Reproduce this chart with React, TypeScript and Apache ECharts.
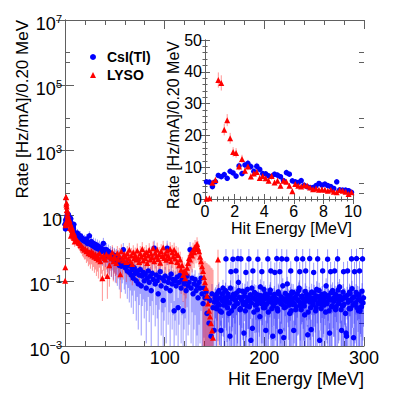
import React, { useEffect, useRef } from "react";
import * as echarts from "echarts";

const FONT = "'Liberation Sans', Arial, Helvetica, sans-serif";

// ---------- inset binning: 0.2 MeV bins from 0 to 10 MeV ----------
const lowBinStart = 0.1;
const lowBinWidth = 0.2;

const csiLow = [
  5.4, 5.3, 3.9, 5.5, 7.4, 7.0, 7.7, 6.5, 8.7, 8.2,
  7.2, 10.4, 8.0, 10.7, 11.2, 10.2, 8.7, 10.3, 9.3, 8.0,
  7.9, 7.3, 7.1, 7.8, 7.5, 7.0, 5.8, 8.3, 7.8, 5.7,
  5.4, 5.2, 5.8, 4.3, 3.9, 3.6, 3.6, 4.2, 4.9, 4.4,
  4.7, 4.2, 3.9, 3.3, 5.4, 2.9, 2.8, 2.8, 2.6, 2.1,
];
const csiLowErr = [
  0.8, 0.8, 0.7, 0.8, 0.9, 0.9, 0.9, 0.9, 1.0, 1.0,
  0.9, 1.1, 1.0, 1.1, 1.1, 1.1, 1.0, 1.1, 1.0, 0.9,
  0.9, 0.9, 0.9, 0.9, 0.9, 0.9, 0.8, 0.9, 0.9, 0.8,
  0.8, 0.8, 0.8, 0.7, 0.7, 0.7, 0.7, 0.7, 0.7, 0.7,
  0.7, 0.7, 0.7, 0.6, 0.8, 0.6, 0.6, 0.6, 0.6, 0.5,
];
const lysoLow = [
  0.1, 0.26, 5.1, 6.0, 37.4, 36.5, 21.8, 24.8, 19.1, 14.8,
  14.5, 10.2, 12.6, 8.9, 10.2, 7.1, 8.0, 8.5, 6.6, 7.2,
  6.5, 5.7, 7.2, 5.2, 5.7, 4.2, 5.7, 5.4, 4.2, 2.4,
  4.7, 4.2, 3.9, 4.4, 4.2, 3.6, 3.1, 3.3, 2.9, 3.1,
  2.9, 2.6, 2.9, 2.3, 2.1, 2.8, 2.6, 2.3, 1.6, 2.1,
];
const lysoLowErr = [
  0.02, 0.05, 0.9, 1.0, 2.4, 2.4, 1.8, 1.9, 1.7, 1.5,
  1.5, 1.2, 1.3, 1.1, 1.2, 1.0, 1.0, 1.1, 0.9, 1.0,
  0.9, 0.9, 0.9, 0.8, 0.9, 0.8, 0.8, 0.8, 0.8, 0.6,
  0.8, 0.7, 0.7, 0.7, 0.7, 0.7, 0.6, 0.6, 0.6, 0.6,
  0.6, 0.6, 0.6, 0.5, 0.5, 0.6, 0.6, 0.5, 0.5, 0.5,
];

// ---------- main plot beyond 10 MeV: points every 1 MeV ----------
const mainBinStart = 10.5;
const mainBinWidth = 1;

const csiMain = [
  2.8, 2.6, 2.9, 2.3, 2.1, 2.4, 1.9, 2.0, 1.7, 1.8,
  1.6, 1.9, 1.4, 1.5, 2.4, 1.3, 1.6, 1.2, 1.4, 1.1,
  1.3, 1.0, 1.2, 0.95, 1.1, 0.85, 1.0, 0.8, 1.4, 0.9,
  0.75, 0.9, 0.6, 0.8, 0.55, 0.7, 0.5, 0.65, 0.45, 0.6,
  0.4, 0.55, 0.35, 0.5, 0.3, 0.45, 0.28, 0.38, 0.9, 0.3,
  0.25, 0.35, 0.2, 0.3, 0.18, 0.28, 0.15, 0.22, 0.12, 0.25,
  0.17, 0.1, 0.2, 0.08, 0.15, 0.22, 0.07, 0.14, 0.18, 0.1,
  0.16, 0.06, 0.12, 0.2, 0.09, 0.14, 0.05, 0.17, 0.11, 1.0,
  0.08, 0.15, 0.1, 0.04, 0.13, 0.19, 0.07, 0.12, 0.025, 0.1,
  0.14, 0.06, 1.0, 0.09, 0.12, 0.05, 0.16, 0.08, 0.11, 0.012,
  0.1, 0.07, 0.13, 0.015, 0.09, 0.15, 0.06, 0.11, 0.012, 0.08,
  0.1, 0.05, 0.14, 0.07, 0.09, 0.9, 0.06, 0.12, 0.04, 0.08,
  0.11, 0.05, 0.07, 0.03, 0.09, 0.06, 0.12, 0.04, 0.02, 0.06,
  0.03, 0.045, 0.01, 0.03, 0.005, 0.025, 0.002, 0.04, 0.015, 0.003,
  0.03, 0.015, 0.04, 0.02, 0.05, 0.012, 0.003, 0.025, 0.06, 0.018,
  0.03, 0.47, 0.022, 0.04, 0.01, 0.002, 0.19, 0.028, 0.46, 0.016,
  0.035, 0.2, 0.02, 0.48, 0.05, 0.013, 0.47, 0.03, 0.022, 0.0025,
  0.045, 0.18, 0.017, 0.03, 0.47, 0.024, 0.0015, 0.06, 0.2, 0.011,
  0.028, 0.04, 0.019, 0.46, 0.026, 0.008, 0.035, 0.19, 0.02, 0.055,
  0.015, 0.003, 0.03, 0.47, 0.023, 0.042, 0.2, 0.014, 0.002, 0.032,
  0.18, 0.025, 0.48, 0.012, 0.04, 0.19, 0.02, 0.47, 0.07, 0.0018,
  0.028, 0.016, 0.46, 0.035, 0.022, 0.01, 0.2, 0.045, 0.019, 0.003,
  0.03, 0.013, 0.47, 0.026, 0.05, 0.19, 0.017, 0.033, 0.47, 0.021,
  0.009, 0.2, 0.038, 0.0022, 0.027, 0.48, 0.015, 0.045, 0.024, 0.18,
  0.03, 0.012, 0.055, 0.47, 0.02, 0.0015, 0.034, 0.018, 0.2, 0.026,
  0.04, 0.011, 0.022, 0.46, 0.03, 0.0025, 0.19, 0.016, 0.05, 0.024,
  0.2, 0.013, 0.036, 0.47, 0.02, 0.065, 0.027, 0.003, 0.017, 0.19,
  0.032, 0.01, 0.002, 0.2, 0.025, 0.045, 0.014, 0.47, 0.03, 0.0018,
  0.19, 0.021, 0.48, 0.038, 0.012, 0.2, 0.026, 0.016, 0.47, 0.03,
];
// relative uncertainty, percent
const csiMainErrPct = [
  35, 38, 34, 40, 42, 37, 44, 41, 45, 43,
  46, 42, 50, 48, 38, 52, 47, 55, 50, 56,
  52, 58, 54, 60, 56, 62, 58, 64, 48, 60,
  65, 60, 70, 62, 72, 66, 74, 68, 76, 70,
  78, 72, 80, 74, 82, 76, 84, 78, 60, 82,
  84, 78, 86, 80, 88, 82, 90, 84, 92, 80,
  86, 94, 84, 96, 88, 82, 97, 88, 85, 93,
  86, 98, 90, 84, 94, 88, 99, 86, 92, 70,
  95, 88, 93, 100, 90, 85, 97, 91, 100, 94,
  89, 98, 70, 95, 91, 99, 87, 96, 92, 100,
  94, 97, 90, 99, 95, 88, 98, 92, 100, 96,
  93, 99, 89, 97, 95, 72, 98, 91, 100, 96,
  92, 99, 97, 100, 95, 98, 90, 100, 100, 97,
  100, 98, 100, 100, 100, 100, 100, 99, 100, 100,
  90, 95, 85, 93, 80, 97, 100, 92, 78, 96,
  88, 100, 94, 82, 98, 100, 100, 90, 100, 95,
  86, 100, 95, 100, 75, 97, 100, 88, 93, 100,
  80, 100, 96, 89, 100, 92, 100, 74, 100, 98,
  91, 84, 95, 100, 90, 98, 83, 100, 94, 77,
  97, 100, 89, 100, 93, 82, 100, 96, 100, 87,
  100, 91, 100, 97, 83, 100, 94, 100, 70, 100,
  90, 96, 100, 85, 93, 98, 100, 81, 95, 100,
  88, 97, 100, 92, 78, 100, 95, 86, 100, 93,
  98, 100, 84, 100, 90, 100, 96, 80, 92, 100,
  87, 97, 76, 100, 94, 100, 85, 95, 100, 91,
  83, 98, 93, 100, 89, 100, 100, 96, 79, 92,
  100, 97, 85, 100, 94, 74, 90, 100, 96, 100,
  86, 98, 100, 100, 92, 82, 97, 100, 88, 100,
  100, 93, 100, 84, 97, 100, 91, 95, 100, 87,
];

// extra CsI(Tl) points in the 150-300 MeV tail, in between the ones above
const csiTailStart = 150;
const csiTail = [
  0.022, 0.035, 0.014, 0.028, 0.045, 0.018, 0.03, 0.011, 0.04, 0.024,
  0.019, 0.05, 0.027, 0.015, 0.033, 0.021, 0.06, 0.012, 0.029, 0.038,
  0.017, 0.025, 0.042, 0.02, 0.09, 0.031, 0.014, 0.026, 0.048, 0.019,
  0.034, 0.012, 0.023, 0.055, 0.028, 0.016, 0.037, 0.021, 0.0035, 0.03,
  0.044, 0.018, 0.026, 0.013, 0.036, 0.024, 0.065, 0.02, 0.031, 0.015,
  0.027, 0.04, 0.019, 0.033, 0.011, 0.025, 0.052, 0.022, 0.03, 0.017,
  0.038, 0.021, 0.028, 0.014, 0.046, 0.024, 0.0028, 0.032, 0.019, 0.027,
  0.015, 0.041, 0.023, 0.08, 0.029, 0.018, 0.035, 0.012, 0.026, 0.044,
  0.02, 0.031, 0.016, 0.039, 0.025, 0.06, 0.021, 0.013, 0.034, 0.028,
  0.017, 0.047, 0.024, 0.03, 0.011, 0.036, 0.022, 0.0032, 0.029, 0.019,
  0.042, 0.026, 0.015, 0.033, 0.021, 0.05, 0.027, 0.014, 0.038, 0.023,
  0.018, 0.031, 0.07, 0.02, 0.035, 0.012, 0.026, 0.043, 0.017, 0.029,
  0.024, 0.039, 0.016, 0.028, 0.052, 0.021, 0.033, 0.013, 0.027, 0.045,
  0.019, 0.03, 0.0025, 0.036, 0.022, 0.014, 0.041, 0.025, 0.058, 0.018,
  0.032, 0.02, 0.044, 0.015, 0.027, 0.037, 0.012, 0.024, 0.048, 0.021,
];
const csiTailErrPct = [
  88, 80, 96, 90, 78, 94, 86, 98, 82, 92,
  95, 76, 89, 97, 84, 93, 72, 98, 87, 81,
  96, 91, 79, 94, 68, 86, 97, 90, 77, 95,
  83, 98, 92, 74, 88, 96, 82, 93, 100, 87,
  78, 95, 90, 98, 83, 92, 71, 94, 86, 97,
  89, 80, 95, 85, 98, 91, 75, 93, 87, 96,
  82, 93, 88, 97, 78, 91, 100, 85, 95, 89,
  97, 80, 92, 66, 87, 95, 83, 98, 90, 79,
  94, 86, 97, 81, 91, 72, 93, 98, 84, 88,
  96, 77, 91, 87, 98, 82, 93, 100, 88, 95,
  79, 90, 97, 85, 93, 74, 89, 97, 81, 92,
  95, 86, 70, 94, 83, 98, 90, 78, 96, 88,
  92, 80, 97, 89, 75, 93, 85, 98, 90, 78,
  95, 87, 100, 82, 92, 97, 80, 91, 73, 96,
  85, 94, 79, 97, 90, 82, 98, 92, 76, 93,
];

const lysoMain: (number | null)[] = [
  2.0, 1.8, 1.7, 1.5, 1.45, 1.25, 1.2, 1.05, 1.0, 0.9,
  0.95, 0.8, 0.85, 0.7, 0.75, 0.65, 0.8, 0.6, 0.7, 0.55,
  0.65, 0.5, 0.6, 0.45, 0.7, 0.4, 0.55, 0.12, 0.6, 0.5,
  0.45, 0.65, 0.14, 0.55, 0.3, 0.6, 0.48, 0.75, 0.4, 0.55,
  0.5, 0.35, 0.7, 0.45, 0.6, 0.16, 0.8, 0.5, 0.42, 0.65,
  0.55, 0.38, 0.7, 0.48, 0.9, 0.4, 0.6, 0.33, 0.75, 0.5,
  0.62, 0.45, 0.85, 0.5, 0.38, 0.7, 0.55, 0.95, 0.42, 0.65,
  0.5, 0.75, 0.35, 0.6, 0.88, 0.45, 0.68, 0.52, 1.0, 0.4,
  0.72, 0.55, 0.9, 0.47, 0.65, 0.36, 0.8, 0.58, 1.05, 0.5,
  0.68, 0.44, 0.85, 0.6, 0.5, 0.95, 0.4, 0.75, 0.56, 0.9,
  0.48, 0.7, 0.38, 0.62, 0.3, 0.45, 0.22, 0.3, 0.15, 0.2,
  0.12, 0.18, 0.25, 0.35, 0.5, 0.45, 0.7, 0.6, 0.9, 0.75,
  1.1, 0.95, 1.35, 1.0, 0.8, 0.55, 0.4, 0.28, 0.2, 0.13,
  0.09, 0.06, 0.035, 0.02, 0.012, 0.008, 0.005, 0.003, 0.0018, null,
  null, null, null, 0.45,
];
const lysoMainErrPct = [
  32, 34, 36, 38, 40, 42, 44, 46, 48, 50,
  52, 56, 54, 60, 58, 64, 60, 66, 62, 68,
  66, 72, 68, 74, 64, 76, 70, 80, 66, 72,
  74, 66, 80, 70, 78, 66, 72, 64, 76, 70,
  72, 76, 66, 74, 70, 82, 64, 72, 74, 68,
  70, 76, 66, 72, 62, 76, 70, 78, 64, 72,
  68, 74, 64, 72, 76, 67, 70, 62, 74, 68,
  72, 66, 76, 70, 62, 74, 68, 72, 60, 76,
  67, 72, 64, 74, 68, 78, 66, 70, 60, 72,
  68, 74, 64, 70, 72, 62, 76, 67, 70, 64,
  72, 67, 76, 70, 78, 74, 82, 78, 85, 82,
  88, 84, 80, 76, 72, 74, 68, 70, 64, 67,
  62, 64, 60, 64, 67, 72, 76, 80, 120, 200,
  350, 500, 900, 1500, 2500, 3500, 5000, 8000, 12000, 0,
  0, 0, 0, 100,
];

// ---------- axes ----------
const yLabelDecades = [1e-3, 1e-1, 10, 1e3, 1e5, 1e7];
const yShortTicks = [5e-3, 1e-2, 0.5, 1, 50, 100, 5e3, 1e4, 5e5, 1e6];
const xMainTicks = { min: 0, max: 300, interval: 100 };
const xInsetTicks = { min: 0, max: 10, interval: 2 };
const yInsetTicks = { min: 0, max: 50, interval: 10 };

const LOG_FLOOR = 1e-4;

function lowPoints(vals: number[], errs: number[]) {
  return vals.map((v, i) => [lowBinStart + i * lowBinWidth, v, v - errs[i], v + errs[i]]);
}
function pctPoints(vals: (number | null)[], pct: number[], start: number, step: number) {
  const out: number[][] = [];
  vals.forEach((v, i) => {
    if (v == null) return;
    const e = (v * pct[i]) / 100;
    out.push([start + i * step, v, v - e, v + e]);
  });
  return out;
}

const csiInsetPts = lowPoints(csiLow, csiLowErr);
const lysoInsetPts = lowPoints(lysoLow, lysoLowErr);
const csiMainPts = csiInsetPts
  .concat(pctPoints(csiMain, csiMainErrPct, mainBinStart, mainBinWidth))
  .concat(pctPoints(csiTail, csiTailErrPct, csiTailStart, mainBinWidth));
const lysoMainPts = lysoInsetPts.concat(pctPoints(lysoMain, lysoMainErrPct, mainBinStart, mainBinWidth));

const BLUE = "#0000ff";
const RED = "#ff0000";
const BLUE_ERR = "rgba(0,0,255,0.4)";
const RED_ERR = "rgba(255,0,0,0.42)";
const AXIS = "#606060";

function errSeries(name: string, data: number[][], color: string, xi: number, yi: number, floor: number) {
  return {
    type: "custom",
    name,
    xAxisIndex: xi,
    yAxisIndex: yi,
    data,
    clip: true,
    silent: true,
    encode: { x: 0, y: 1 },
    renderItem: (_p: any, api: any) => {
      const x = api.value(0);
      let lo = api.value(2);
      const hi = api.value(3);
      if (!(lo > floor)) lo = floor;
      const a = api.coord([x, lo]);
      const b = api.coord([x, hi]);
      return {
        type: "line",
        shape: { x1: a[0], y1: a[1], x2: b[0], y2: b[1] },
        style: { stroke: color, lineWidth: 1 },
      };
    },
  };
}

function scatter(name: string, data: number[][], color: string, symbol: string, size: number, xi: number, yi: number) {
  return {
    type: "scatter",
    name,
    xAxisIndex: xi,
    yAxisIndex: yi,
    data: data.map((d) => [d[0], d[1]]),
    symbol,
    symbolSize: size,
    itemStyle: { color, opacity: 1 },
    silent: true,
  };
}

const lineStyle = { color: AXIS, width: 1 };

function logLabel(v: number) {
  const e = Math.round(Math.log10(v));
  if (e === 1) return "{b|10}";
  const s = e < 0 ? "\u2212" + -e : String(e);
  return "{b|10}{s|" + s + "}";
}

const option: any = {
  animation: false,
  textStyle: { fontFamily: FONT },
  grid: [
    { left: 65, top: 20, width: 299, height: 326, containLabel: false, outerBoundsMode: "none" },
    { left: 65, top: 20, width: 299, height: 326, containLabel: false, outerBoundsMode: "none" },
    {
      left: 205, top: 40, width: 148, height: 159, containLabel: false, outerBoundsMode: "none",
      show: true, backgroundColor: "#fff", borderWidth: 0,
    },
  ],
  xAxis: [
    {
      gridIndex: 0, type: "value", position: "bottom", ...xMainTicks,
      axisLine: { show: true, lineStyle },
      axisTick: { show: true, inside: true, length: 9, lineStyle },
      minorTick: { show: true, splitNumber: 5, length: 5, lineStyle },
      axisLabel: { show: true, fontSize: 18, lineHeight: 16, color: "#000", margin: 4, fontFamily: FONT },
      splitLine: { show: false },
      minorSplitLine: { show: false },
    },
    {
      gridIndex: 0, type: "value", position: "top", ...xMainTicks,
      axisLine: { show: true, lineStyle },
      axisTick: { show: true, inside: true, length: 9, lineStyle },
      minorTick: { show: true, splitNumber: 5, length: 5, lineStyle },
      axisLabel: { show: false },
      splitLine: { show: false },
    },
    { gridIndex: 1, type: "value", show: false, ...xMainTicks },
    {
      gridIndex: 2, type: "value", position: "bottom", ...xInsetTicks,
      axisLine: { show: true, lineStyle },
      axisTick: { show: true, inside: true, length: 5, lineStyle },
      minorTick: { show: true, splitNumber: 5, length: 2.5, lineStyle },
      axisLabel: { show: true, fontSize: 16, lineHeight: 13, color: "#000", margin: 6, fontFamily: FONT },
      splitLine: { show: false },
    },
    {
      gridIndex: 2, type: "value", position: "top", ...xInsetTicks,
      axisLine: { show: true, lineStyle },
      axisTick: { show: true, inside: true, length: 5, lineStyle },
      minorTick: { show: true, splitNumber: 5, length: 2.5, lineStyle },
      axisLabel: { show: false },
      splitLine: { show: false },
    },
  ],
  yAxis: [
    {
      gridIndex: 0, type: "log", logBase: 10, min: 1e-3, max: 1e7, position: "left",
      axisLine: { show: true, lineStyle },
      axisTick: { show: true, inside: true, length: 9, lineStyle, customValues: yLabelDecades },
      axisLabel: {
        show: true, customValues: yLabelDecades, formatter: logLabel, margin: 3,
        padding: [8, 0, 0, 0],
        rich: {
          b: { fontSize: 18, fontFamily: FONT, color: "#000", lineHeight: 22 },
          s: { fontSize: 11, fontFamily: FONT, color: "#000", lineHeight: 12, verticalAlign: "top" },
        },
      },
      splitLine: { show: false },
    },
    {
      gridIndex: 0, type: "log", logBase: 10, min: 1e-3, max: 1e7, position: "right",
      axisLine: { show: true, lineStyle },
      axisTick: { show: true, inside: true, length: 9, lineStyle, customValues: yLabelDecades },
      axisLabel: { show: false },
      splitLine: { show: false },
    },
    {
      gridIndex: 1, type: "log", logBase: 10, min: 1e-3, max: 1e7, position: "left",
      axisLine: { show: false },
      axisTick: { show: true, inside: true, length: 5, lineStyle, customValues: yShortTicks },
      axisLabel: { show: false },
      splitLine: { show: false },
    },
    {
      gridIndex: 1, type: "log", logBase: 10, min: 1e-3, max: 1e7, position: "right",
      axisLine: { show: false },
      axisTick: { show: true, inside: true, length: 5, lineStyle, customValues: yShortTicks },
      axisLabel: { show: false },
      splitLine: { show: false },
    },
    {
      gridIndex: 2, type: "value", position: "left", ...yInsetTicks,
      axisLine: { show: true, lineStyle },
      axisTick: { show: true, inside: true, length: 5, lineStyle },
      minorTick: { show: true, splitNumber: 5, length: 2.5, lineStyle },
      axisLabel: { show: true, fontSize: 16, lineHeight: 14, color: "#000", margin: 3, fontFamily: FONT, padding: [3, 0, 0, 0] },
      splitLine: { show: false },
    },
    {
      gridIndex: 2, type: "value", position: "right", ...yInsetTicks,
      axisLine: { show: true, lineStyle },
      axisTick: { show: true, inside: true, length: 5, lineStyle },
      minorTick: { show: true, splitNumber: 5, length: 2.5, lineStyle },
      axisLabel: { show: false },
      splitLine: { show: false },
    },
  ],
  legend: {
    show: true,
    orient: "vertical",
    left: 85,
    top: 44,
    itemWidth: 6,
    itemHeight: 6,
    itemGap: 2,
    selectedMode: false,
    data: [
      { name: "CsI(Tl)", icon: "circle" },
      { name: "LYSO", icon: "triangle" },
    ],
    textStyle: { fontSize: 14, fontWeight: "bold", color: "#000", fontFamily: FONT, lineHeight: 16, padding: [0, 0, 0, 6] },
  },
  series: [
    errSeries("csiErr", csiMainPts, BLUE_ERR, 0, 0, LOG_FLOOR),
    scatter("CsI(Tl)", csiMainPts, BLUE, "circle", 5.5, 0, 0),
    errSeries("lysoErr", lysoMainPts, RED_ERR, 0, 0, LOG_FLOOR),
    scatter("LYSO", lysoMainPts, RED, "triangle", 6, 0, 0),
    errSeries("csiErrInset", csiInsetPts, BLUE_ERR, 3, 4, 0),
    scatter("CsI(Tl)", csiInsetPts, BLUE, "circle", 5.5, 3, 4),
    errSeries("lysoErrInset", lysoInsetPts, RED_ERR, 3, 4, 0),
    scatter("LYSO", lysoInsetPts, RED, "triangle", 6, 3, 4),
  ],
  graphic: [
    {
      type: "text", x: 22, y: 20, rotation: Math.PI / 2,
      style: { text: "Rate [Hz/mA]/0.20 MeV", fontSize: 17, lineHeight: 17, fontFamily: FONT, fill: "#000", align: "right", verticalAlign: "middle" },
    },
    {
      type: "text", x: 364, y: 379,
      style: { text: "Hit Energy [MeV]", fontSize: 18, lineHeight: 16, fontFamily: FONT, fill: "#000", align: "right", verticalAlign: "middle" },
    },
    {
      type: "text", x: 173, y: 41, rotation: Math.PI / 2,
      style: { text: "Rate [Hz/mA]/0.20 MeV", fontSize: 16, lineHeight: 16, fontFamily: FONT, fill: "#000", align: "right", verticalAlign: "middle" },
    },
    {
      type: "text", x: 352, y: 228,
      style: { text: "Hit Energy [MeV]", fontSize: 16, lineHeight: 14, fontFamily: FONT, fill: "#000", align: "right", verticalAlign: "middle" },
    },
  ],
};

export default function App() {
  const ref = useRef<HTMLDivElement>(null);
  useEffect(() => {
    document.body.style.margin = "0";
    const chart = echarts.init(ref.current!, null, { renderer: "svg" });
    chart.setOption(option);
    return () => chart.dispose();
  }, []);
  return <div ref={ref} style={{ width: 405, height: 394 }} />;
}
